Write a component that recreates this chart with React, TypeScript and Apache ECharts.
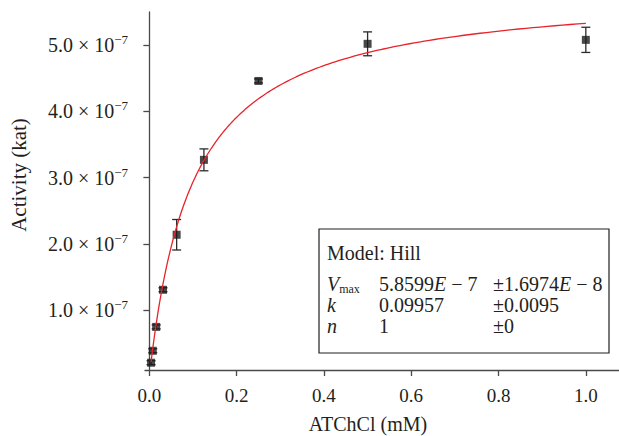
import React, { useEffect, useRef } from 'react';
import * as echarts from 'echarts';

// ---- data ----
const concentrations = [0.0039, 0.0078, 0.0156, 0.03125, 0.0625, 0.125, 0.25, 0.5, 1.0];
const activity = [0.21e-7, 0.39e-7, 0.75e-7, 1.31e-7, 2.14e-7, 3.27e-7, 4.46e-7, 5.02e-7, 5.08e-7];
const activityErr = [0.03e-7, 0.03e-7, 0.03e-7, 0.03e-7, 0.23e-7, 0.165e-7, 0.03e-7, 0.18e-7, 0.19e-7];

const xTicks = [0, 0.2, 0.4, 0.6, 0.8, 1.0];
const yTicks = [1e-7, 2e-7, 3e-7, 4e-7, 5e-7];
const yTickMantissa = ['1.0', '2.0', '3.0', '4.0', '5.0'];
const yTickExponent = '−7';

// Hill fit parameters shown in the box
const fitVmax = 5.8599e-7;
const fitK = 0.09957;
const fitN = 1;

const xAxisTitle = 'ATChCl (mM)';
const yAxisTitle = 'Activity (kat)';
const modelTitle = 'Model: Hill';
const paramNames = ['V', 'k', 'n'];
const paramSubs = ['max', '', ''];
const paramValues = ['5.8599E − 7', '0.09957', '1'];
const paramErrors = ['±1.6974E − 8', '±0.0095', '±0'];

const FONT = "'Liberation Serif', 'DejaVu Serif', 'Times New Roman', serif";
const INK = '#231f20';
const AXIS = '#4a4a4a';

function hill(x: number) {
  const xn = Math.pow(x, fitN);
  return (fitVmax * xn) / (Math.pow(fitK, fitN) + xn);
}

function buildCurve() {
  const pts: number[][] = [];
  const x0 = concentrations[0];
  const x1 = concentrations[concentrations.length - 1];
  const N = 300;
  for (let i = 0; i <= N; i++) {
    const x = x0 * Math.pow(x1 / x0, i / N);
    pts.push([x, hill(x)]);
  }
  return pts;
}

function richValue(s: string) {
  const parts = s.split('E');
  if (parts.length === 1) return `{n|${s}}`;
  return `{n|${parts[0]}}{i|E}{n|${parts[1]}}`;
}

export default function App() {
  const ref = useRef<HTMLDivElement>(null);
  useEffect(() => {
    if (!ref.current) return;
    const chart = echarts.init(ref.current, undefined, { renderer: 'svg' });

    const LF = 20;
    const textRich = {
      n: { fontSize: LF, fontFamily: FONT, fill: INK, lineHeight: 22 },
      i: { fontSize: LF, fontFamily: FONT, fill: INK, fontStyle: 'italic', lineHeight: 22 },
      s: { fontSize: 12, fontFamily: FONT, fill: INK, verticalAlign: 'bottom', lineHeight: 13 },
    };

    const colName = 327;
    const colVal = 379;
    const colErr = 493;
    const rowY = [284, 305, 326];

    const legendChildren: any[] = [
      {
        type: 'rect',
        shape: { x: 319, y: 229, width: 290, height: 124 },
        style: { fill: '#fff', stroke: INK, lineWidth: 1.2 },
      },
      {
        type: 'text',
        x: colName,
        y: 253,
        style: { text: modelTitle, fontSize: LF, fontFamily: FONT, fill: INK, verticalAlign: 'middle' },
      },
    ];
    paramNames.forEach((nm, i) => {
      const nameText = paramSubs[i] ? `{i|${nm}}{s|${paramSubs[i]}}` : `{i|${nm}}`;
      legendChildren.push(
        {
          type: 'text',
          x: colName,
          y: rowY[i],
          style: { text: nameText, rich: textRich, verticalAlign: 'middle', fontFamily: FONT, fontSize: LF },
        },
        {
          type: 'text',
          x: colVal,
          y: rowY[i],
          style: { text: richValue(paramValues[i]), rich: textRich, verticalAlign: 'middle', fontFamily: FONT, fontSize: LF },
        },
        {
          type: 'text',
          x: colErr,
          y: rowY[i],
          style: { text: richValue(paramErrors[i]), rich: textRich, verticalAlign: 'middle', fontFamily: FONT, fontSize: LF },
        }
      );
    });

    const option: any = {
      animation: false,
      backgroundColor: '#fff',
      grid: { left: 145, right: 0, top: 12, bottom: 66, containLabel: false },
      xAxis: {
        type: 'value',
        min: -0.01,
        max: 1.076,
        axisLine: { show: true, lineStyle: { color: AXIS, width: 1.3 } },
        axisTick: { show: true, inside: false, length: 6, customValues: xTicks, lineStyle: { color: AXIS, width: 1.3 } },
        axisLabel: {
          customValues: xTicks,
          margin: 16,
          fontFamily: FONT,
          fontSize: 19,
          color: INK,
          formatter: (v: number) => v.toFixed(1),
        },
        splitLine: { show: false },
      },
      yAxis: {
        type: 'value',
        min: 0.1e-7,
        max: 5.5e-7,
        axisLine: { show: true, lineStyle: { color: AXIS, width: 1.3 } },
        axisTick: { show: true, inside: false, length: 6, customValues: yTicks, lineStyle: { color: AXIS, width: 1.3 } },
        axisLabel: {
          customValues: yTicks,
          margin: 17,
          color: INK,
          formatter: (v: number) => {
            const idx = Math.round(v / 1e-7) - 1;
            return `{m|${yTickMantissa[idx]} × 10}{e|${yTickExponent}}`;
          },
          rich: {
            m: { fontFamily: FONT, fontSize: 20, color: INK, lineHeight: 24 },
            e: { fontFamily: FONT, fontSize: 13, color: INK, verticalAlign: 'top', lineHeight: 15 },
          },
        },
        splitLine: { show: false },
      },
      graphic: [
        {
          type: 'text',
          x: 368,
          y: 424,
          style: { text: xAxisTitle, fontSize: 20, fontFamily: FONT, fill: INK, align: 'center', verticalAlign: 'middle' },
        },
        {
          type: 'text',
          x: 19,
          y: 175,
          rotation: Math.PI / 2,
          style: { text: yAxisTitle, fontSize: 21, fontFamily: FONT, fill: INK, align: 'center', verticalAlign: 'middle' },
        },
        { type: 'group', children: legendChildren, z: 100 },
      ],
      series: [
        {
          type: 'custom',
          z: 2,
          data: concentrations.map((c, i) => [c, activity[i], activityErr[i]]),
          encode: { x: 0, y: 1 },
          renderItem: (params: any, api: any) => {
            const x = api.value(0);
            const y = api.value(1);
            const e = api.value(2);
            const top = api.coord([x, y + e]);
            const bot = api.coord([x, y - e]);
            const hw = 4.5;
            const style = { stroke: '#2b2b2b', lineWidth: 1.3 };
            return {
              type: 'group',
              children: [
                { type: 'line', shape: { x1: top[0], y1: top[1], x2: bot[0], y2: bot[1] }, style },
                { type: 'line', shape: { x1: top[0] - hw, y1: top[1], x2: top[0] + hw, y2: top[1] }, style },
                { type: 'line', shape: { x1: bot[0] - hw, y1: bot[1], x2: bot[0] + hw, y2: bot[1] }, style },
              ],
            };
          },
        },
        {
          type: 'scatter',
          z: 3,
          symbol: 'rect',
          symbolSize: 8,
          itemStyle: { color: '#1c1c1c' },
          data: concentrations.map((c, i) => [c, activity[i]]),
        },
        {
          type: 'line',
          z: 4,
          showSymbol: false,
          symbol: 'none',
          smooth: false,
          lineStyle: { color: '#e8232b', width: 1.3 },
          data: buildCurve(),
        },
      ],
    };
    chart.setOption(option);
    return () => chart.dispose();
  }, []);

  return (
    <div
      ref={ref}
      style={{ position: 'fixed', left: 0, top: 0, width: 619, height: 436, background: '#fff' }}
    />
  );
}
